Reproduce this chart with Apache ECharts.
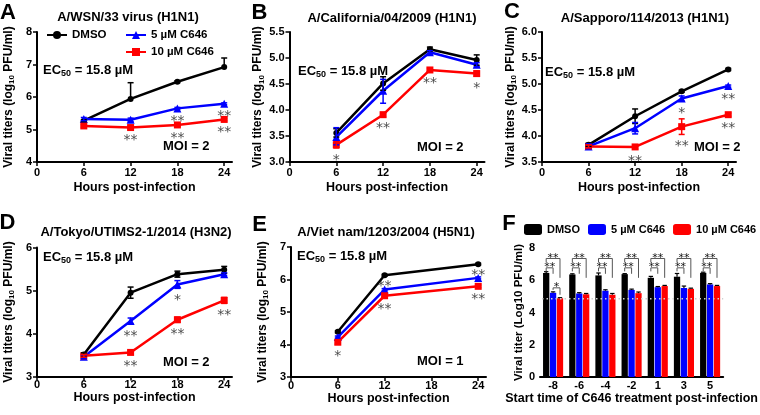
<!DOCTYPE html>
<html><head><meta charset="utf-8">
<script src="https://cdn.jsdelivr.net/npm/echarts@6/dist/echarts.min.js"></script>
<style>html,body{margin:0;padding:0;background:#fff}#c{width:760px;height:415px}</style>
</head><body><div id="c"></div>
<script>
// ---------- data ----------
const hours = [6, 12, 18, 24];
const hoursE = [6, 12, 24];
const xTicks = [0, 6, 12, 18, 24];
const seriesNames = ['DMSO', '5 µM C646', '10 µM C646'];

// A/WSN/33 (H1N1)
const aDMSO = [5.27, 5.94, 6.47, 6.92];
const aC5 = [5.32, 5.30, 5.65, 5.79];
const aC10 = [5.11, 5.06, 5.14, 5.31];
const aErrDMSO = [[0.03, 0.03], [0, 0.50], [0.03, 0.03], [0, 0.28]];
const aErr5 = [[0.05, 0.05], [0.05, 0.05], [0.03, 0.03], [0.03, 0.03]];
const aErr10 = [[0.04, 0.04], [0.04, 0.04], [0.04, 0.04], [0.04, 0.04]];
const aStar5 = ['', '', '**', '**'];
const aStar10 = ['', '**', '**', '**'];

// A/California/04/2009 (H1N1)
const bDMSO = [3.56, 4.51, 5.17, 4.96];
const bC5 = [3.48, 4.37, 5.11, 4.87];
const bC10 = [3.33, 3.91, 4.77, 4.70];
const bErrDMSO = [[0.08, 0.08], [0.13, 0.13], [0.04, 0.04], [0.10, 0.10]];
const bErr5 = [[0.15, 0.18], [0.24, 0.22], [0.03, 0.03], [0.04, 0.04]];
const bErr10 = [[0.06, 0.06], [0.04, 0.04], [0.03, 0.03], [0.05, 0.05]];
const bStar5 = ['', '', '', ''];
const bStar10 = ['*', '**', '**', '*'];

// A/Sapporo/114/2013 (H1N1)
const cDMSO = [3.83, 4.38, 4.86, 5.28];
const cC5 = [3.80, 4.15, 4.72, 4.96];
const cC10 = [3.80, 3.79, 4.18, 4.41];
const cErrDMSO = [[0.03, 0.03], [0.14, 0.14], [0.02, 0.02], [0.02, 0.02]];
const cErr5 = [[0.05, 0.05], [0.11, 0.11], [0.05, 0.05], [0.02, 0.02]];
const cErr10 = [[0.03, 0.03], [0.04, 0.04], [0.15, 0.15], [0.03, 0.03]];
const cStar5 = ['', '', '*', '**'];
const cStar10 = ['', '**', '**', '**'];

// A/Tokyo/UTIMS2-1/2014 (H3N2)
const dDMSO = [3.51, 4.95, 5.38, 5.48];
const dC5 = [3.46, 4.29, 5.14, 5.38];
const dC10 = [3.48, 3.56, 4.32, 4.77];
const dErrDMSO = [[0.04, 0.04], [0.13, 0.13], [0.07, 0.07], [0.08, 0.08]];
const dErr5 = [[0.04, 0.04], [0.07, 0.07], [0.09, 0.09], [0.03, 0.03]];
const dErr10 = [[0.03, 0.03], [0.04, 0.04], [0.06, 0.06], [0.07, 0.07]];
const dStar5 = ['', '**', '*', ''];
const dStar10 = ['', '**', '**', '**'];

// A/Viet nam/1203/2004 (H5N1)
const eDMSO = [4.39, 6.13, 6.47];
const eC5 = [4.23, 5.69, 6.05];
const eC10 = [4.07, 5.50, 5.79];
const eErrDMSO = [[0.03, 0.03], [0.03, 0.03], [0.03, 0.03]];
const eErr5 = [[0.03, 0.03], [0.03, 0.03], [0.03, 0.03]];
const eErr10 = [[0.06, 0.06], [0.05, 0.05], [0.04, 0.04]];
const eStar5 = ['', '**', '**'];
const eStar10 = ['*', '**', '**'];

// F: time-of-addition
const fCats = ['-8', '-6', '-4', '-2', '1', '3', '5'];
const fDMSO = [6.45, 6.36, 6.30, 6.38, 6.15, 6.22, 6.46];
const fC5 = [5.22, 5.18, 5.35, 5.40, 5.57, 5.52, 5.74];
const fC10 = [4.88, 5.13, 5.10, 5.20, 5.64, 5.47, 5.64];
const fErrDMSO = [0.08, 0.04, 0.15, 0.03, 0.09, 0.20, 0.04];
const fErr5 = [0.06, 0.05, 0.06, 0.05, 0.04, 0.12, 0.05];
const fErr10 = [0.04, 0.05, 0.08, 0.07, 0.04, 0.04, 0.04];
const fLimit = 4.85;
const fSigHigh = ['**', '**', '**', '**', '**', '**', '**'];
const fSigLow = ['**', '**', '**', '**', '**', '**', '**'];
const fSigPair = ['*', '', '', '', '', '', ''];

// ---------- styling / layout ----------
const FONT = "'Liberation Sans', Arial, Helvetica, sans-serif";
const STARFONT = "'DejaVu Sans', 'Liberation Sans', sans-serif";
const COLORS = ['#000000', '#0000ff', '#ff0000'];
const SYMBOLS = ['circle', 'triangle', 'rect'];
const SYMSIZE = [6, 8, 7];

const panels = [
  {xs: hours, vals: [aDMSO, aC5, aC10], errs: [aErrDMSO, aErr5, aErr10], stars: [null, aStar5, aStar10], above5: false,
   grid: {left: 37, top: 32, width: 195, height: 130}, y: {min: 4, max: 8, interval: 1, dec: 0}, xLabelMargin: 5.5, xNameGap: 19.5, yNameGap: 21,
   yName: 'Viral titers (log{s|10} PFU/ml)'},
  {xs: hours, vals: [bDMSO, bC5, bC10], errs: [bErrDMSO, bErr5, bErr10], stars: [null, bStar5, bStar10], above5: false,
   grid: {left: 289.5, top: 32, width: 195, height: 130}, y: {min: 3, max: 5.5, interval: 0.5, dec: 1}, xLabelMargin: 5.5, xNameGap: 19.5, yNameGap: 23,
   yName: 'Viral titers (log{s|10} PFU/ml)'},
  {xs: hours, vals: [cDMSO, cC5, cC10], errs: [cErrDMSO, cErr5, cErr10], stars: [null, cStar5, cStar10], above5: false,
   grid: {left: 542, top: 32, width: 194, height: 130}, y: {min: 3.5, max: 6, interval: 0.5, dec: 1}, xLabelMargin: 5.5, xNameGap: 19.5, yNameGap: 23,
   yName: 'Viral titers (log{s|10} PFU/ml)'},
  {xs: hours, vals: [dDMSO, dC5, dC10], errs: [dErrDMSO, dErr5, dErr10], stars: [null, dStar5, dStar10], above5: false,
   grid: {left: 37, top: 247.5, width: 195, height: 129}, y: {min: 3, max: 6, interval: 1, dec: 0}, xLabelMargin: 3, xNameGap: 11.5, yNameGap: 21,
   yName: 'Viral titers (log{s|10} PFU/ml)'},
  {xs: hoursE, vals: [eDMSO, eC5, eC10], errs: [eErrDMSO, eErr5, eErr10], stars: [null, eStar5, eStar10], above5: true,
   grid: {left: 291, top: 247, width: 195, height: 130}, y: {min: 3, max: 7, interval: 1, dec: 0}, xLabelMargin: 3, xNameGap: 11.5, yNameGap: 21,
   yName: 'Viral titers (log{s|10} PFU/ml)'}
];

const axisCommon = {
  axisLine: {lineStyle: {color: '#000', width: 2}},
  axisTick: {length: 4, lineStyle: {color: '#000', width: 1.5}},
  splitLine: {show: false}
};
const labelStyle = {color: '#000', fontFamily: FONT, fontWeight: 'bold', fontSize: 11};
const nameStyle = {color: '#000', fontFamily: FONT, fontWeight: 'bold', fontSize: 12.5};
const yNameStyle = {color: '#000', fontFamily: FONT, fontWeight: 'bold', fontSize: 12, lineHeight: 15,
  rich: {s: {fontFamily: FONT, fontWeight: 'bold', fontSize: 8, verticalAlign: 'bottom', lineHeight: 8, color: '#000'}}};

const grids = [], xAxes = [], yAxes = [], series = [];

function errRenderer(color, cap) {
  return function (params, api) {
    const x = api.value(0), lo = api.value(1), hi = api.value(2), v = api.value(3);
    const pLo = api.coord([x, lo]), pHi = api.coord([x, hi]);
    const st = {stroke: color, lineWidth: 1.5};
    const ch = [
      {type: 'line', shape: {x1: pLo[0], y1: pLo[1], x2: pHi[0], y2: pHi[1]}, style: st},
      {type: 'line', shape: {x1: pHi[0] - cap, y1: pHi[1], x2: pHi[0] + cap, y2: pHi[1]}, style: st}
    ];
    if (lo < v) ch.push({type: 'line', shape: {x1: pLo[0] - cap, y1: pLo[1], x2: pLo[0] + cap, y2: pLo[1]}, style: st});
    return {type: 'group', children: ch};
  };
}

panels.forEach((p, gi) => {
  grids.push(Object.assign({containLabel: false}, p.grid));
  xAxes.push(Object.assign({}, axisCommon, {
    type: 'value', gridIndex: gi, min: 0, max: 25,
    name: 'Hours post-infection', nameLocation: 'middle', nameGap: p.xNameGap, nameTextStyle: nameStyle,
    axisTick: Object.assign({}, axisCommon.axisTick, {customValues: xTicks}),
    axisLabel: Object.assign({}, labelStyle, {customValues: xTicks, margin: p.xLabelMargin})
  }));
  yAxes.push(Object.assign({}, axisCommon, {
    type: 'value', gridIndex: gi, min: p.y.min, max: p.y.max, interval: p.y.interval,
    name: p.yName, nameLocation: 'middle', nameGap: p.yNameGap, nameTextStyle: yNameStyle,
    axisLabel: Object.assign({}, labelStyle, {margin: 5, formatter: v => v.toFixed(p.y.dec)})
  }));
  // lines
  p.vals.forEach((vals, si) => {
    series.push({
      type: 'line', name: seriesNames[si], xAxisIndex: gi, yAxisIndex: gi,
      data: p.xs.map((x, k) => [x, vals[k]]),
      symbol: SYMBOLS[si], symbolSize: SYMSIZE[si], showSymbol: true,
      lineStyle: {color: COLORS[si], width: 2.5}, itemStyle: {color: COLORS[si], borderWidth: 0},
      emphasis: {disabled: true}, silent: true, z: 2 + si
    });
  });
  // error bars
  p.vals.forEach((vals, si) => {
    const errs = p.errs[si];
    series.push({
      type: 'custom', name: 'err' + gi + '_' + si, xAxisIndex: gi, yAxisIndex: gi,
      renderItem: errRenderer(COLORS[si], 3), silent: true, z: 6,
      encode: {x: 0, y: [1, 2]},
      data: p.xs.map((x, k) => [x, vals[k] - errs[k][0], vals[k] + errs[k][1], vals[k]])
    });
  });
  // significance stars
  [1, 2].forEach(si => {
    const st = p.stars[si];
    const above = (si === 1 && p.above5);
    const data = [];
    p.xs.forEach((x, k) => {
      if (!st[k]) return;
      const v = p.vals[si][k];
      const e = p.errs[si][k];
      data.push([x, above ? v + e[1] : v - e[0], st[k]]);
    });
    series.push({
      type: 'scatter', name: 'sig' + gi + '_' + si, xAxisIndex: gi, yAxisIndex: gi,
      symbolSize: 1, itemStyle: {color: 'rgba(0,0,0,0)'}, silent: true, z: 7,
      data: data,
      label: {show: true, position: 'inside', offset: [0, above ? -2 : 12], formatter: q => q.value[2],
        fontFamily: STARFONT, fontSize: 14, color: '#1a1a1a'}
    });
  });
});

// ---------- Panel F ----------
const FI = 5;
grids.push({left: 540, top: 248, width: 193, height: 129});
xAxes.push(Object.assign({}, axisCommon, {
  type: 'category', gridIndex: FI, data: fCats,
  name: 'Start time of C646 treatment post-infection', nameLocation: 'middle', nameGap: 15, nameTextStyle: nameStyle,
  axisTick: Object.assign({}, axisCommon.axisTick, {alignWithLabel: true}),
  axisLabel: Object.assign({}, labelStyle, {margin: 3})
}));
yAxes.push(Object.assign({}, axisCommon, {
  type: 'value', gridIndex: FI, min: 0, max: 8, interval: 2,
  name: 'Viral titer (Log10 PFU/ml)', nameLocation: 'middle', nameGap: 13,
  nameTextStyle: {color: '#000', fontFamily: FONT, fontWeight: 'bold', fontSize: 11.5},
  axisLabel: Object.assign({}, labelStyle, {margin: 5})
}));
const BW = 0.24, GAP = 0.1;
[fDMSO, fC5, fC10].forEach((vals, si) => {
  series.push({
    type: 'bar', name: seriesNames[si], xAxisIndex: FI, yAxisIndex: FI, data: vals,
    barWidth: (BW * 100) + '%', barGap: (GAP * 100) + '%',
    itemStyle: {color: COLORS[si]}, silent: true, emphasis: {disabled: true}, z: 2
  });
});
function barX(api, i, si) {
  const c = api.coord([i, 0])[0];
  const band = api.size([1, 0])[0];
  const bw = band * BW;
  return c + (si - 1) * bw * (1 + GAP);
}
// bar error bars (upper only)
[fErrDMSO, fErr5, fErr10].forEach((errs, si) => {
  const vals = [fDMSO, fC5, fC10][si];
  series.push({
    type: 'custom', name: 'ferr' + si, xAxisIndex: FI, yAxisIndex: FI, silent: true, z: 5,
    encode: {x: 0, y: [1, 2]},
    data: vals.map((v, i) => [i, v, v + errs[i]]),
    renderItem: function (params, api) {
      const i = api.value(0);
      const x = barX(api, i, si);
      const y1 = api.coord([i, api.value(1)])[1], y2 = api.coord([i, api.value(2)])[1];
      const st = {stroke: '#000', lineWidth: 1.2};
      return {type: 'group', children: [
        {type: 'line', shape: {x1: x, y1: y1, x2: x, y2: y2}, style: st},
        {type: 'line', shape: {x1: x - 2.2, y1: y2, x2: x + 2.2, y2: y2}, style: st}
      ]};
    }
  });
});
// detection-limit dotted line
series.push({
  type: 'custom', name: 'flimit', xAxisIndex: FI, yAxisIndex: FI, silent: true, z: 8,
  encode: {x: 0, y: 1}, data: [[0, fLimit]],
  renderItem: function (params, api) {
    const cs = params.coordSys;
    const y = api.coord([0, api.value(1)])[1];
    return {type: 'line', shape: {x1: cs.x + 2, y1: y, x2: cs.x + cs.width, y2: y},
      style: {stroke: '#cfcfcf', lineWidth: 1.5, lineDash: [1.5, 3]}};
  }
});
// significance brackets
series.push({
  type: 'custom', name: 'fsig', xAxisIndex: FI, yAxisIndex: FI, silent: true, z: 9,
  encode: {x: 0, y: 1}, data: fCats.map((c, i) => [i, 7.4]),
  renderItem: function (params, api) {
    const i = api.value(0);
    const xd = barX(api, i, 0), x5 = barX(api, i, 1), x10 = barX(api, i, 2);
    const Y = v => api.coord([i, v])[1];
    const ch = [];
    function bracket(x1, x2, lvl, l1, l2, txt) {
      const y = Y(lvl);
      ch.push({type: 'polyline', shape: {points: [[x1, Y(l1)], [x1, y], [x2, y], [x2, Y(l2)]]},
        style: {stroke: '#555', lineWidth: 1, fill: null}});
      ch.push({type: 'text', style: {text: txt, x: (x1 + x2) / 2, y: y - 0.5, align: 'center', verticalAlign: 'middle',
        fontFamily: STARFONT, fontSize: 11, fill: '#111'}});
    }
    if (fSigHigh[i]) bracket(xd, x10, 7.35, 7.1, 6.15, fSigHigh[i]);
    if (fSigLow[i]) bracket(xd, x5, 6.77, 6.55, 6.4, fSigLow[i]);
    if (fSigPair[i]) bracket(x5, x10, 5.53, 5.4, 5.1, fSigPair[i]);
    return {type: 'group', children: ch};
  }
});

// ---------- text annotations ----------
const txt = (t, x, y, size, align) => ({type: 'text', x: x, y: y, silent: true,
  style: {text: t, fontFamily: FONT, fontWeight: 'bold', fontSize: size, fill: '#000', align: align || 'center', verticalAlign: 'middle'}});
const ec50 = (x, y) => ({type: 'text', x: x, y: y, silent: true,
  style: {text: '{a|EC}{s|50}{a| = 15.8 µM}', align: 'left', verticalAlign: 'middle',
    rich: {a: {fontFamily: FONT, fontWeight: 'bold', fontSize: 13, lineHeight: 16, fill: '#000', color: '#000'},
           s: {fontFamily: FONT, fontWeight: 'bold', fontSize: 9, lineHeight: 9, verticalAlign: 'bottom', fill: '#000', color: '#000'}}}});
const graphics = [
  txt('A', 8, 13, 22), txt('B', 259.5, 12.5, 22), txt('C', 512, 11.5, 22),
  txt('D', 7.5, 223, 22), txt('E', 259.5, 225, 22), txt('F', 509, 224, 22),
  txt('A/WSN/33 virus (H1N1)', 128, 17, 13), txt('A/California/04/2009 (H1N1)', 392, 18, 13),
  txt('A/Sapporo/114/2013 (H1N1)', 645, 18, 13), txt('A/Tokyo/UTIMS2-1/2014 (H3N2)', 136, 232, 13),
  txt('A/Viet nam/1203/2004 (H5N1)', 386, 232, 13),
  ec50(43, 70), ec50(298, 71), ec50(545, 72), ec50(43, 257), ec50(297, 256),
  txt('MOI = 2', 163, 146, 13, 'left'), txt('MOI = 2', 417, 147, 13, 'left'), txt('MOI = 2', 694, 147, 13, 'left'),
  txt('MOI = 2', 163, 362, 13, 'left'), txt('MOI = 1', 417, 361, 13, 'left')
];

const legendText = {color: '#000', fontFamily: FONT, fontWeight: 'bold', fontSize: 11.5};
const option = {
  animation: false,
  backgroundColor: '#fff',
  grid: grids, xAxis: xAxes, yAxis: yAxes, series: series,
  legend: [
    {left: 46, top: 29, padding: 0, itemWidth: 20, itemHeight: 10, selectedMode: false, textStyle: legendText, data: ['DMSO']},
    {left: 125, top: 29, padding: 0, orient: 'vertical', itemGap: 5, itemWidth: 20, itemHeight: 10, selectedMode: false, textStyle: legendText,
     data: ['5 µM C646', '10 µM C646']},
    {left: 524, top: 224, padding: 0, itemGap: 8, itemWidth: 18, itemHeight: 11, selectedMode: false,
     textStyle: Object.assign({}, legendText, {fontSize: 11}),
     data: seriesNames.map(n => ({name: n, icon: 'roundRect'}))}
  ],
  graphic: {elements: graphics}
};
echarts.init(document.getElementById('c'), null, {renderer: 'canvas'}).setOption(option);
</script></body></html>
